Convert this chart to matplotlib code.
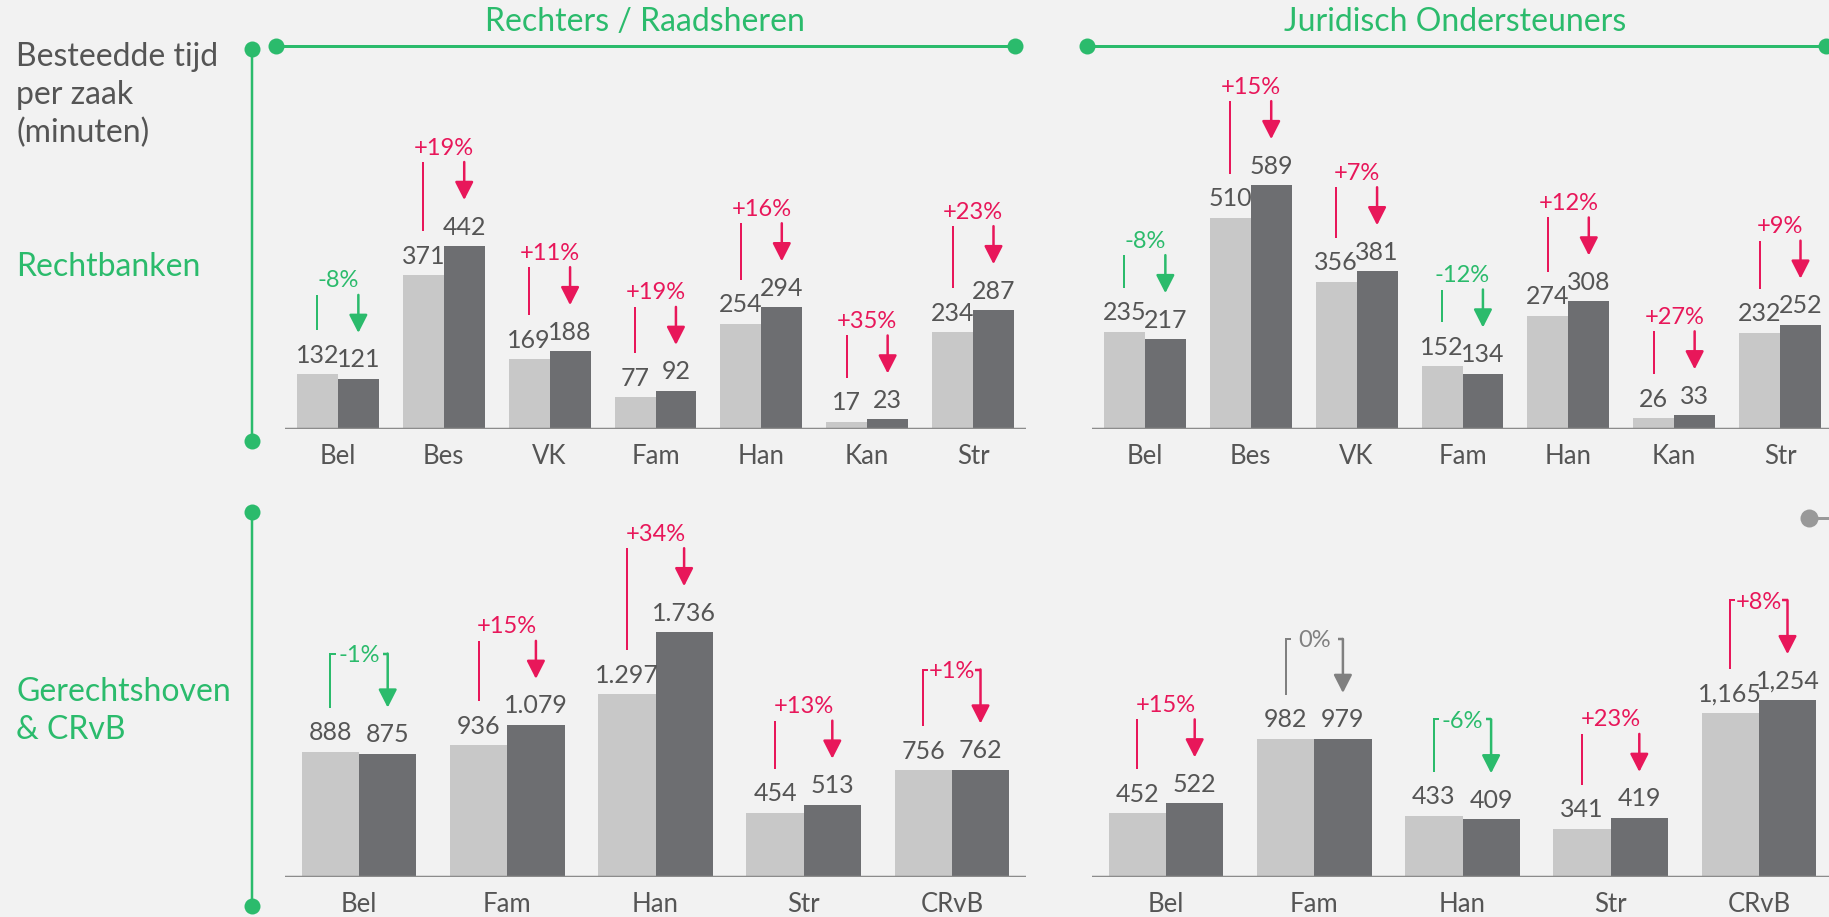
import matplotlib
matplotlib.use("Agg")
import matplotlib.pyplot as plt
import numpy as np
from matplotlib import font_manager

# --- data -------------------------------------------------------------
cats_top = ["Bel", "Bes", "VK", "Fam", "Han", "Kan", "Str"]
rb_rechters_prev = [132, 371, 169, 77, 254, 17, 234]
rb_rechters_curr = [121, 442, 188, 92, 294, 23, 287]
rb_rechters_pct = ["-8%", "+19%", "+11%", "+19%", "+16%", "+35%", "+23%"]

rb_jur_prev = [235, 510, 356, 152, 274, 26, 232]
rb_jur_curr = [217, 589, 381, 134, 308, 33, 252]
rb_jur_pct = ["-8%", "+15%", "+7%", "-12%", "+12%", "+27%", "+9%"]

cats_bottom = ["Bel", "Fam", "Han", "Str", "CRvB"]
hof_rechters_prev = [888, 936, 1297, 454, 756]
hof_rechters_curr = [875, 1079, 1736, 513, 762]
hof_rechters_pct = ["-1%", "+15%", "+34%", "+13%", "+1%"]

hof_jur_prev = [452, 982, 433, 341, 1165]
hof_jur_curr = [522, 979, 409, 419, 1254]
hof_jur_pct = ["+15%", "0%", "-6%", "+23%", "+8%"]

# --- style ------------------------------------------------------------
W, H = 1829, 917
BG = "#F2F2F2"
LIGHT = "#C8C8C8"
DARK = "#6D6E71"
GREEN = "#2BBB6C"
RED = "#E8175A"
GREY = "#808080"
TEXT = "#555555"
AXIS = "#8C8C8C"
PX = 0.72  # points per pixel at dpi 100

installed = {f.name for f in font_manager.fontManager.ttflist}
for fam in ["Lato", "Liberation Sans", "DejaVu Sans"]:
    if fam in installed:
        plt.rcParams["font.family"] = fam
        break

fig = plt.figure(figsize=(W / 100, H / 100), dpi=100, facecolor=BG)

# overlay in pixel coordinates for frame lines and side labels
ov = fig.add_axes([0, 0, 1, 1])
ov.set_xlim(0, W)
ov.set_ylim(H, 0)
ov.axis("off")
ov.patch.set_alpha(0)


def fmt(v, sep):
    s = f"{v:,}"
    return s.replace(",", sep)


def pct_color(label):
    if label.startswith("+"):
        return RED
    if label.startswith("-"):
        return GREEN
    return GREY


def panel(left_px, base_px, height_px, ppu, cats, prev, curr, pcts, sep, bracket_ok):
    ymax = height_px / ppu
    ax = fig.add_axes([left_px / W, 1 - base_px / H, 741 / W, height_px / H])
    n = len(cats)
    ax.set_xlim(-0.5, n - 0.5)
    ax.set_ylim(0, ymax)
    ax.axis("off")
    ax.patch.set_alpha(0)
    w = 0.386
    x = np.arange(n)
    ax.bar(x - w / 2, prev, w, color=LIGHT, zorder=2)
    ax.bar(x + w / 2, curr, w, color=DARK, zorder=2)
    ax.axhline(0, color=AXIS, lw=2.5 * PX, zorder=3)

    px2u = 1.0 / ppu
    for i in range(n):
        xl, xd = x[i] - w / 2, x[i] + w / 2
        yl, yd = prev[i], curr[i]
        ax.text(xl, yl + 19 * px2u, fmt(yl, sep), ha="center", va="center",
                fontsize=18, color=TEXT)
        ax.text(xd, yd + 19 * px2u, fmt(yd, sep), ha="center", va="center",
                fontsize=18, color=TEXT)
        ax.text(x[i], -27 * px2u, cats[i], ha="center", va="center",
                fontsize=18.5, color=TEXT, clip_on=False)

        c = pct_color(pcts[i])
        tip = yd + 46 * px2u
        left_bottom = yl + 44 * px2u
        bracket = bracket_ok and len(pcts[i]) <= 3
        if bracket:
            lab_y = tip + 52 * px2u
            top = lab_y + 2 * px2u
            tick = 0.035
            ax.plot([xl, xl, xl + tick], [left_bottom, top, top], color=c,
                    lw=2 * PX, solid_capstyle="butt", solid_joinstyle="miter")
            ax.plot([xd - tick, xd], [top, top], color=c, lw=2.5 * PX,
                    solid_capstyle="butt")
        else:
            top = tip + 38 * px2u
            lab_y = top + 14 * px2u
            ax.plot([xl, xl], [left_bottom, top], color=c, lw=2 * PX,
                    solid_capstyle="butt")
        ax.annotate("", xy=(xd, tip), xytext=(xd, top),
                    arrowprops=dict(arrowstyle="-|>,head_length=0.55,head_width=0.28",
                                    mutation_scale=20, lw=2.5 * PX, color=c,
                                    shrinkA=0, shrinkB=0))
        ax.text(x[i], lab_y, pcts[i], ha="center", va="center",
                fontsize=17, color=c)
    return ax


panel(285, 429, 370, 0.414, cats_top, rb_rechters_prev, rb_rechters_curr,
      rb_rechters_pct, ".", False)
panel(1092, 429, 370, 0.414, cats_top, rb_jur_prev, rb_jur_curr,
      rb_jur_pct, ",", False)
panel(285, 877, 370, 0.141, cats_bottom, hof_rechters_prev, hof_rechters_curr,
      hof_rechters_pct, ".", True)
panel(1092, 877, 370, 0.141, cats_bottom, hof_jur_prev, hof_jur_curr,
      hof_jur_pct, ",", True)

# frame lines with end dots
def green_line(x0, y0, x1, y1, lw=3):
    ov.plot([x0, x1], [y0, y1], color=GREEN, lw=lw * PX, solid_capstyle="butt")
    ov.plot([x0, x1], [y0, y1], "o", color=GREEN, ms=16 * PX, mew=0)

green_line(276, 46, 1015, 46)
green_line(1087, 46, 1826, 46)
green_line(252, 49, 252, 441, lw=2.5)
green_line(252, 512, 252, 906, lw=2.5)

ov.plot([1809, W], [518, 518], color="#999999", lw=3 * PX, solid_capstyle="butt")
ov.plot([1809], [518], "o", color="#999999", ms=18 * PX, mew=0)

ov.text(645, 22, "Rechters / Raadsheren", ha="center", va="center",
        fontsize=23, color=GREEN)
ov.text(1455, 22, "Juridisch Ondersteuners", ha="center", va="center",
        fontsize=23, color=GREEN)

ov.text(16, 57, "Besteedde tijd", ha="left", va="center", fontsize=23, color=TEXT)
ov.text(16, 95, "per zaak", ha="left", va="center", fontsize=23, color=TEXT)
ov.text(16, 133, "(minuten)", ha="left", va="center", fontsize=23, color=TEXT)
ov.text(16, 267, "Rechtbanken", ha="left", va="center", fontsize=23, color=GREEN)
ov.text(16, 692, "Gerechtshoven", ha="left", va="center", fontsize=23, color=GREEN)
ov.text(16, 730, "& CRvB", ha="left", va="center", fontsize=23, color=GREEN)

fig.savefig("out.png", dpi=100, facecolor=BG)
